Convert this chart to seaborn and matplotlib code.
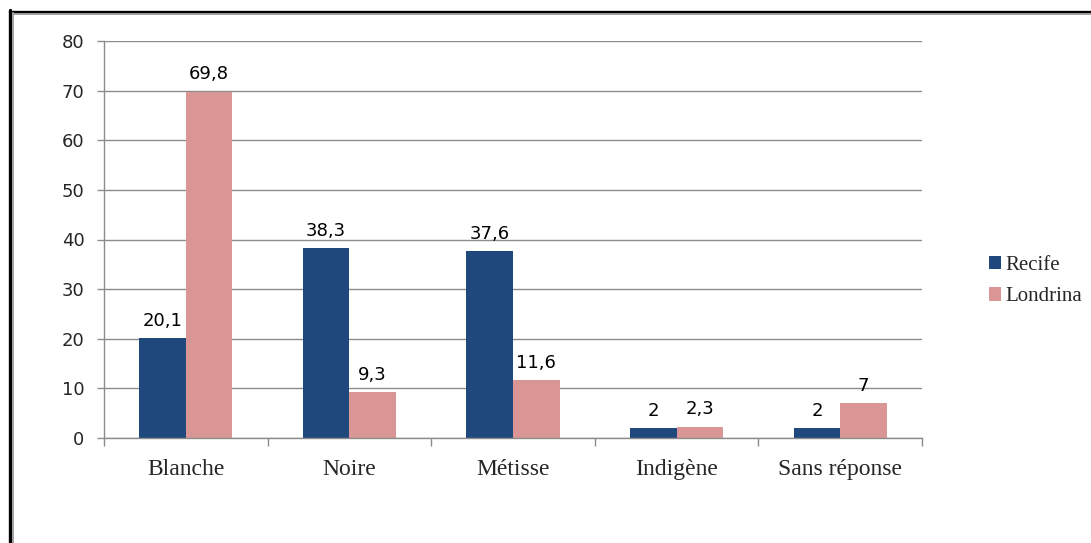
import pandas as pd
import numpy as np
import matplotlib.pyplot as plt
import seaborn as sns
from matplotlib.lines import Line2D
from matplotlib.patches import Patch

# Données
categories = ['Blanche', 'Noire', 'Métisse', 'Indigène', 'Sans réponse']
recife     = [20.1, 38.3, 37.6, 2, 2]
londrina   = [69.8, 9.3, 11.6, 2.3, 7]
series     = ['Recife', 'Londrina']
couleurs   = ['#1F497D', '#D99694']

df = pd.DataFrame({
    'categorie': categories * 2,
    'valeur':    recife + londrina,
    'ville':     ['Recife'] * len(categories) + ['Londrina'] * len(categories),
})

sns.set_theme(style='white')
plt.rcParams['font.family'] = ['DejaVu Sans']

fig = plt.figure(figsize=(10.91, 5.43), dpi=100)
ax = fig.add_axes([104 / 1091, 1 - 438 / 543, (922 - 104) / 1091, (438 - 41) / 543])

sns.barplot(data=df, x='categorie', y='valeur', hue='ville',
            palette=couleurs, width=0.57, gap=0, saturation=1,
            edgecolor='none', legend=False, ax=ax)

# Étiquettes de données
def fmt(v):
    return f'{v:g}'.replace('.', ',')

for cont in ax.containers:
    ax.bar_label(cont, labels=[fmt(b.get_height()) for b in cont],
                 padding=6, fontsize=13, color='#000000')

gris = '#8C8C8C'
ax.set_ylim(0, 80)
ax.set_xlim(-0.5, len(categories) - 0.5)
ax.set_yticks(range(0, 81, 10))
ax.yaxis.grid(True, color=gris, linewidth=1)
ax.set_axisbelow(True)
ax.set_xlabel('')
ax.set_ylabel('')

for s in ['top', 'right']:
    ax.spines[s].set_visible(False)
for s in ['left', 'bottom']:
    ax.spines[s].set_color(gris)
    ax.spines[s].set_linewidth(1)

ax.tick_params(axis='y', length=5, width=1, color=gris, pad=9,
               labelsize=13, left=True)
ax.set_xticks(np.arange(len(categories)))
ax.set_xticklabels(categories, family='Liberation Serif', fontsize=17)
ax.tick_params(axis='x', which='major', length=0, pad=15)
ax.set_xticks(np.arange(-0.5, len(categories)), minor=True)
ax.tick_params(axis='x', which='minor', length=6, width=1, color=gris,
               bottom=True)

# Légende
handles = [Patch(facecolor=c, edgecolor='none') for c in couleurs]
fig.legend(handles, series, loc='center left',
           bbox_to_anchor=(970 / 1091, 1 - 281 / 543),
           frameon=False, prop={'family': 'Liberation Serif', 'size': 15},
           handlelength=0.6, handleheight=0.6, handletextpad=0.2,
           labelspacing=0.6)

# Cadre
fig.add_artist(Line2D([9.5 / 1091, 1], [1 - 11.5 / 543] * 2,
                      color='black', linewidth=2.4))
fig.add_artist(Line2D([13 / 1091, 1], [1 - 14 / 543] * 2,
                      color='#A0A0A0', linewidth=1.4))
fig.add_artist(Line2D([9.5 / 1091] * 2, [0, 1 - 10 / 543],
                      color='black', linewidth=2.4))
fig.add_artist(Line2D([13 / 1091] * 2, [0, 1 - 13 / 543],
                      color='#A0A0A0', linewidth=1.4))

fig.savefig('out.png', dpi=100, facecolor='white')
